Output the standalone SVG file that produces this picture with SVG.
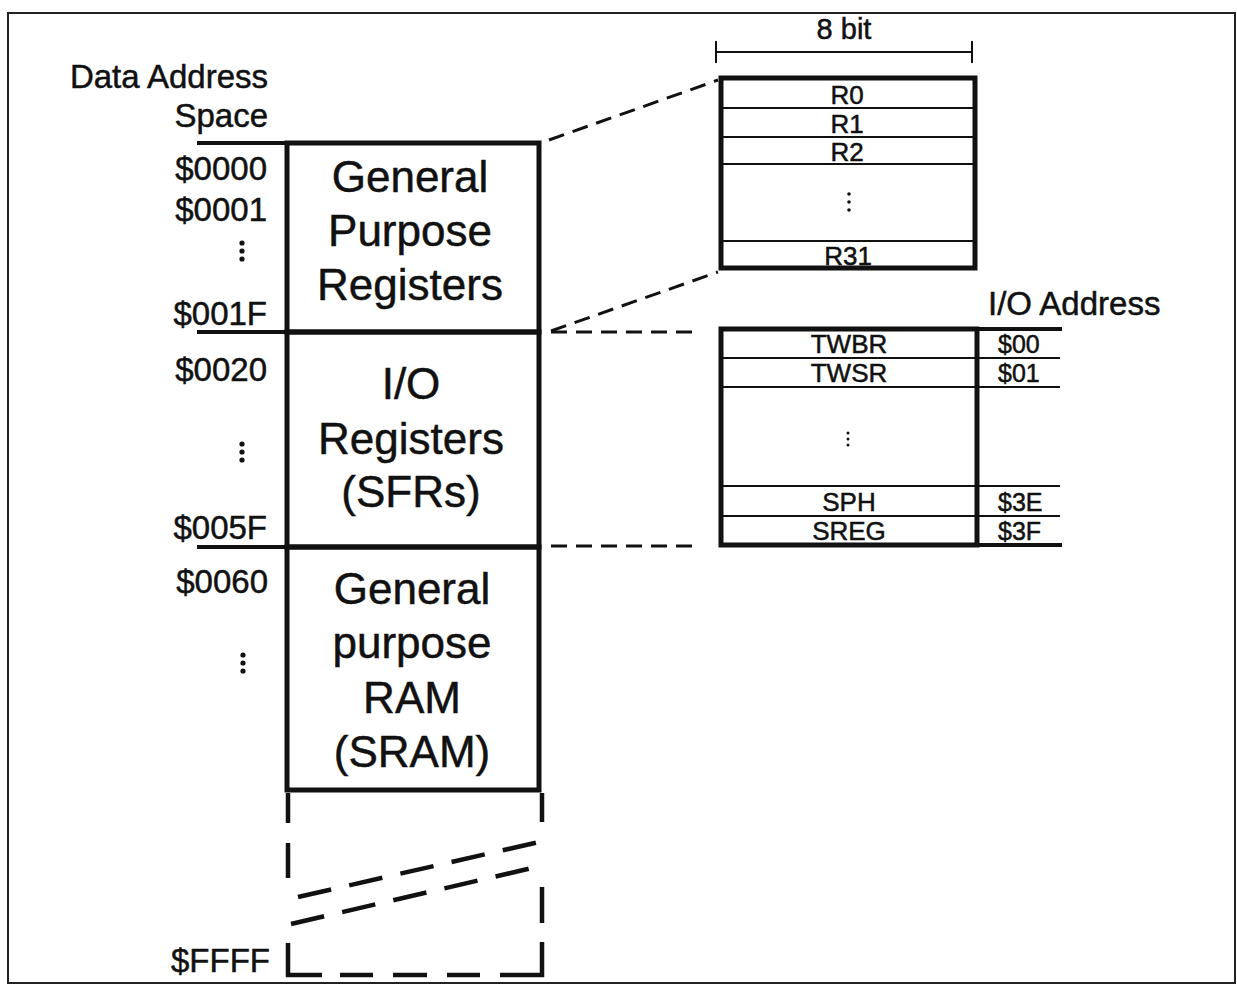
<svg xmlns="http://www.w3.org/2000/svg" width="1237" height="985" viewBox="0 0 1237 985">
<style>
text{font-family:"Liberation Sans",Arial,sans-serif;fill:#111;stroke:#111;stroke-width:0.5}
.addr{font-size:33px;text-anchor:end}
.big{font-size:44px;text-anchor:middle}
.reg{font-size:26px;text-anchor:middle}
.ioa{font-size:25px;text-anchor:start}
.thick{fill:none;stroke:#111;stroke-width:5}
.thin{fill:none;stroke:#111;stroke-width:2}
.ext{fill:none;stroke:#111;stroke-width:4}
.dash{fill:none;stroke:#111;stroke-width:3;stroke-dasharray:16 9}
.bigdash{fill:none;stroke:#111;stroke-width:4.5}
.diag{fill:none;stroke:#111;stroke-width:4.5;stroke-dasharray:34 18.5}
.dot{fill:#111}
</style>
<rect width="1237" height="985" fill="#fff"/>
<g id="frame">
<path d="M8,13 H1235 V983 H8 Z" fill="none" stroke="#222" stroke-width="2"/>
</g>
<g id="axis-labels">
<text x="268" y="88" style="font-size:33px;text-anchor:end">Data Address</text>
<text x="268" y="127" style="font-size:33px;text-anchor:end">Space</text>
<text class="addr" x="267" y="180">$0000</text>
<text class="addr" x="267" y="221">$0001</text>
<circle class="dot" cx="242" cy="243" r="2.6"/><circle class="dot" cx="242" cy="251" r="2.6"/><circle class="dot" cx="242" cy="259" r="2.6"/>
<text class="addr" x="267" y="325">$001F</text>
<text class="addr" x="267" y="381">$0020</text>
<circle class="dot" cx="242" cy="444" r="2.6"/><circle class="dot" cx="242" cy="452" r="2.6"/><circle class="dot" cx="242" cy="460" r="2.6"/>
<text class="addr" x="267" y="539">$005F</text>
<text class="addr" x="268" y="593">$0060</text>
<circle class="dot" cx="243" cy="655" r="2.6"/><circle class="dot" cx="243" cy="663" r="2.6"/><circle class="dot" cx="243" cy="671" r="2.6"/>
<text class="addr" x="270" y="972">$FFFF</text>
<path class="ext" d="M197,143 H287 M197,332 H287 M197,547 H287"/>
</g>
<g id="gpr">
<rect class="thick" x="287" y="143" width="252" height="189"/>
<text class="big" x="410" y="192">General</text>
<text class="big" x="410" y="246">Purpose</text>
<text class="big" x="410" y="300">Registers</text>
</g>
<g id="io">
<rect class="thick" x="287" y="332" width="252" height="215"/>
<text class="big" x="411" y="399">I/O</text>
<text class="big" x="411" y="454">Registers</text>
<text class="big" x="411" y="507">(SFRs)</text>
</g>
<g id="sram">
<rect class="thick" x="287" y="547" width="252" height="243"/>
<text class="big" x="412" y="604">General</text>
<text class="big" x="412" y="658">purpose</text>
<text class="big" x="412" y="713">RAM</text>
<text class="big" x="412" y="767">(SRAM)</text>
</g>
<g id="sram-continuation">
<path class="bigdash" d="M288,793 V823 M288,843 V878 M542,793 V822 M542,887 V923"/>
<path class="bigdash" d="M288,943 V975 H322 M340,975 H373 M393,975 H427 M447,975 H480 M500,975 H542 V942"/>
<path class="diag" d="M298,897 L539,842"/>
<path class="diag" d="M291,924 L532,868"/>
</g>
<g id="register-file">
<path class="thin" d="M716,52 H972 M716,41 V63 M972,41 V63"/>
<text x="844" y="39" style="font-size:29px;text-anchor:middle">8 bit</text>
<path class="thin" d="M721,108 H975 M721,137 H975 M721,164 H975 M721,241 H975"/>
<rect class="thick" x="721" y="78" width="254" height="190"/>
<text class="reg" x="847" y="104">R0</text>
<text class="reg" x="847" y="133">R1</text>
<text class="reg" x="847" y="161">R2</text>
<circle class="dot" cx="849" cy="194" r="1.8"/><circle class="dot" cx="849" cy="202" r="1.8"/><circle class="dot" cx="849" cy="210" r="1.8"/>
<text class="reg" x="848" y="265">R31</text>
</g>
<g id="io-file">
<text x="988" y="315" style="font-size:33px;text-anchor:start">I/O Address</text>
<path class="thin" d="M721,358 H1060 M721,387 H1060 M721,486 H1060 M721,516 H1060"/>
<path class="ext" d="M975,329 H1062 M975,545 H1062"/>
<rect class="thick" x="721" y="329" width="256" height="216"/>
<text class="reg" x="849" y="353">TWBR</text>
<text class="reg" x="849" y="382">TWSR</text>
<circle class="dot" cx="848" cy="433" r="1.5"/><circle class="dot" cx="848" cy="439" r="1.5"/><circle class="dot" cx="848" cy="445" r="1.5"/>
<text class="reg" x="849" y="511">SPH</text>
<text class="reg" x="849" y="540">SREG</text>
<text class="ioa" x="998" y="353">$00</text>
<text class="ioa" x="998" y="382">$01</text>
<text class="ioa" x="998" y="511">$3E</text>
<text class="ioa" x="998" y="540">$3F</text>
</g>
<g id="connectors">
<path class="dash" d="M549,140 L718,80"/>
<path class="dash" d="M551,331 L718,272"/>
<path class="dash" d="M551,332 H700"/>
<path class="dash" d="M551,546 H700"/>
</g>
</svg>
